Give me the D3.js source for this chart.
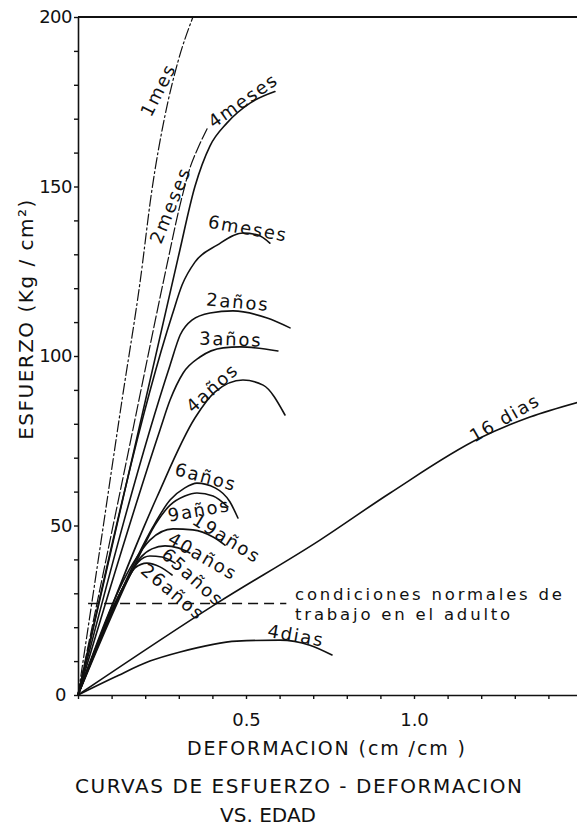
<!DOCTYPE html>
<html><head><meta charset="utf-8">
<script src="https://cdn.jsdelivr.net/npm/d3@7"></script>
<style>
html,body{margin:0;padding:0;background:#fff;}
svg{display:block;background:#fff;}
text{font-family:"DejaVu Sans",sans-serif;fill:#111;}
</style></head><body>
<svg id="chart" width="577" height="829"></svg>
<script>
// ---------- data (strain cm/cm, stress Kg/cm2) ----------
const xTickValues = [0,0.1,0.2,0.3,0.4,0.5,0.6,0.7,0.8,0.9,1.0,1.1,1.2,1.3,1.4,1.5];
const xTickLabels = {"0.5":"0.5","1":"1.0"};
const yTickValues = [0,10,20,30,40,50,60,70,80,90,100,110,120,130,140,150,160,170,180,190,200];
const yTickLabels = [0,50,100,150,200];

const dias4   = [[0,0],[0.11,5.3],[0.214,10],[0.304,12.7],[0.473,15.9],[0.601,16.2],[0.69,14.7],[0.756,11.8]];
const dias16  = [[0,0],[0.414,27.1],[0.72,45.7],[0.929,59.6],[1.196,75.8],[1.345,82],[1.49,86.4]];
const mes1    = [[0,0],[0.065,43],[0.131,87],[0.185,122],[0.22,149],[0.259,171],[0.298,187],[0.342,200]];
const meses2  = [[0,0],[0.14,67],[0.265,127],[0.30,143],[0.335,156],[0.36,162],[0.384,167]];
const meses4  = [[0,0],[0.298,129],[0.348,150],[0.393,162],[0.443,168.7],[0.512,174.6],[0.586,178]];
const meses6  = [[0,0],[0.28,112],[0.31,121],[0.348,127.7],[0.414,132.7],[0.491,136.3],[0.536,135.7],[0.571,133.3]];
const anos2   = [[0,0],[0.274,97.3],[0.304,106.2],[0.339,110.6],[0.393,112.7],[0.461,113.3],[0.563,111.2],[0.631,108.3]];
const anos3   = [[0,0],[0.244,78.2],[0.274,87],[0.313,95],[0.363,99.7],[0.432,102.4],[0.482,102.7],[0.595,101.5]];
const anos4   = [[0,0],[0.235,58.4],[0.348,81.7],[0.408,89.4],[0.491,92.9],[0.551,91.4],[0.616,82.6]];
const anos6   = [[0,0],[0.176,40.7],[0.223,49.6],[0.274,57.5],[0.318,61.1],[0.354,62.5],[0.408,61.1],[0.452,57],[0.476,52.2]];
const anos9   = [[0,0],[0.176,39.8],[0.229,50.1],[0.274,56],[0.318,58.7],[0.354,59.6],[0.402,58.7],[0.446,55.5]];
const anos19  = [[0,0],[0.164,38.9],[0.214,45.7],[0.283,49],[0.342,48.7],[0.402,46.6],[0.4375,44.2]];
const anos40  = [[0,0],[0.155,35.4],[0.185,40.4],[0.22,43.1],[0.259,44],[0.298,43.4],[0.333,41.9]];
const anos65  = [[0,0],[0.149,34.5],[0.179,39.2],[0.214,41],[0.25,40.7],[0.289,38.9]];
const anos26  = [[0,0],[0.143,33.3],[0.17,37.5],[0.205,38.9],[0.244,37.8],[0.28,35.4]];

const normalStress = 27;            // condiciones normales de trabajo
const normalSpan = [0.03, 0.62];

const seriesNames = ["4dias","16 dias","1mes","2meses","4meses","6meses","2años","3años","4años","6años","9años","19años","40años","65años","26años"];
const seriesData  = [dias4,dias16,mes1,meses2,meses4,meses6,anos2,anos3,anos4,anos6,anos9,anos19,anos40,anos65,anos26];

// label placement (data units) and rotation
const labelPos = {
  "4dias":[0.649,17.6,10], "16 dias":[1.27,81.8,-30], "1mes":[0.238,178.5,-63], "2meses":[0.274,144.5,-68],
  "4meses":[0.491,175.4,-35], "6meses":[0.506,137.7,10], "2años":[0.476,116.0,5], "3años":[0.455,105.0,2],
  "4años":[0.399,90.6,-42], "6años":[0.381,64.4,15], "9años":[0.36,54.6,-10], "19años":[0.443,46.3,32],
  "40años":[0.372,41.0,30], "65años":[0.342,34.8,42], "26años":[0.283,30.4,40]
};
const lineDash = {"1mes":"11,3,2,3","2meses":"12,3"};

// ---------- drawing ----------
const svg = d3.select("#chart");
const x = d3.scaleLinear().domain([0,1.5]).range([78,582]);
const y = d3.scaleLinear().domain([0,200]).range([695,17]);

const line = d3.line().x(d=>x(d[0])).y(d=>y(d[1])).curve(d3.curveMonotoneX);

// axes
const gy = svg.append("g").attr("transform",`translate(${x(0)},0)`)
  .call(d3.axisLeft(y).tickValues(yTickValues)
    .tickFormat(d => yTickLabels.includes(d) ? d : "")
    .tickSize(4).tickSizeOuter(0).tickPadding(2));
gy.attr("font-family",null).attr("font-size",null);
gy.selectAll("text").style("font-size","18px").style("letter-spacing","-0.5px");
gy.selectAll(".tick").filter(d=>d===0).select("text").attr("x",-12);
gy.select(".domain").attr("stroke","#111").attr("stroke-width",1.6);
gy.selectAll(".tick line").attr("stroke","#111").attr("stroke-width",1.4);

const gx = svg.append("g").attr("transform",`translate(0,${y(0)})`)
  .call(d3.axisBottom(x).tickValues(xTickValues)
    .tickFormat(d => xTickLabels[String(+d.toFixed(2))] || "")
    .tickSize(4).tickSizeOuter(0).tickPadding(14));
gx.attr("font-family",null).attr("font-size",null);
gx.selectAll("text").style("font-size","18px");
gx.select(".domain").attr("stroke","#111").attr("stroke-width",1.6);
gx.selectAll(".tick line").attr("stroke","#111").attr("stroke-width",1.4);

// top border at 200
svg.append("line").attr("x1",x(0)).attr("x2",x(1.5)).attr("y1",y(200)).attr("y2",y(200))
  .attr("stroke","#111").attr("stroke-width",1.8);

// curves
seriesNames.forEach((name,i)=>{
  svg.append("path").datum(seriesData[i]).attr("d",line)
    .attr("fill","none").attr("stroke","#111")
    .attr("stroke-width", lineDash[name] ? 1.2 : 1.6)
    .attr("stroke-dasharray", lineDash[name] || null)
    .attr("stroke-linecap","round");
});

// normal working line
svg.append("line").attr("x1",x(normalSpan[0])).attr("x2",x(normalSpan[1]))
  .attr("y1",y(normalStress)).attr("y2",y(normalStress))
  .attr("stroke","#111").attr("stroke-width",1.5).attr("stroke-dasharray","10,6");

// curve labels
seriesNames.forEach(name=>{
  const p = labelPos[name];
  svg.append("text").text(name)
    .attr("transform",`translate(${x(p[0])},${y(p[1])}) rotate(${p[2]})`)
    .attr("text-anchor","middle").attr("dominant-baseline","central")
    .style("font-size","18px").style("letter-spacing","1.8px");
});

// annotation (two separate lines)
svg.append("text").attr("x",x(0.646)).attr("y",y(28)).text("condiciones normales de")
  .style("font-size","16.5px").style("letter-spacing","2.8px");
svg.append("text").attr("x",x(0.646)).attr("y",y(22)).text("trabajo en el adulto")
  .style("font-size","16.5px").style("letter-spacing","2.8px");

// axis titles
svg.append("text").text("ESFUERZO (Kg / cm²)")
  .attr("transform",`translate(33,${(y(0)+y(200))/2 - 37}) rotate(-90)`)
  .attr("text-anchor","middle").style("font-size","20px").style("letter-spacing","1.5px");

svg.append("text").text("DEFORMACION (cm /cm )")
  .attr("x",187).attr("y",755).attr("textLength",278).attr("lengthAdjust","spacing")
  .style("font-size","19px");

svg.append("text").text("CURVAS DE ESFUERZO - DEFORMACION")
  .attr("x",75).attr("y",793).attr("textLength",447).attr("lengthAdjust","spacing")
  .style("font-size","20px");
svg.append("text").text("VS. EDAD")
  .attr("x",220).attr("y",822).attr("textLength",96).attr("lengthAdjust","spacing")
  .style("font-size","20px");
</script>
</body></html>
